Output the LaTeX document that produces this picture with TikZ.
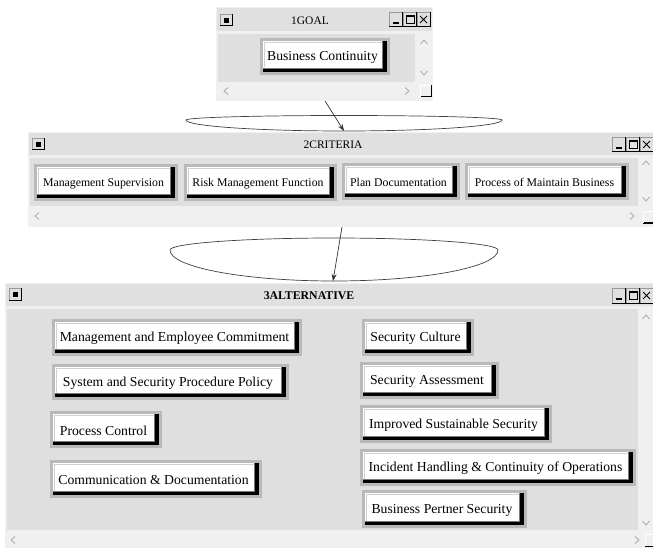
\documentclass[tikz,border=0pt]{standalone}
\usepackage{fontspec}
\setmainfont{Liberation Serif}
\usetikzlibrary{arrows.meta}
\definecolor{winbg}{HTML}{F0F0F0}
\definecolor{titlebg}{HTML}{E0E0E0}
\definecolor{contentbg}{HTML}{DFDFDF}
\definecolor{framegray}{HTML}{B9B9B9}
\definecolor{shadegray}{HTML}{7A7A7A}
\definecolor{lightedge}{HTML}{D0D0D0}
\definecolor{chev}{HTML}{B4B4B4}
\definecolor{edgegray}{HTML}{9A9A9A}

% button: [style] name x1 y1 x2 y2 text
\newcommand\mkbtn[7][btntext]{%
  \fill[framegray] (#3-3,#4-3) rectangle (#5+3,#6+3);
  \fill[black] (#3,#4) rectangle (#5,#6);
  \fill[shadegray] (#3,#4) rectangle (#5-4,#6-3);
  \fill[white] (#3,#4) rectangle (#5-5,#6-4);
  \draw[lightedge,line width=1pt] (#3+1.5,#6-4.5) -- (#3+1.5,#4+1.5) -- (#5-5.5,#4+1.5);
  \node[#1] (#2) at ({(#3+#5-5)/2},{(#4+#6-4)/2+3}) {#7};
}
% window: x1 y1 x2 y2, title bottom, content top, content right, content bottom
\newcommand\mkwin[8]{%
  \fill[winbg] (#1,#2) rectangle (#3,#4);
  \fill[titlebg] (#1+1,#2+1) rectangle (#3-1,#5);
  \fill[contentbg] (#1+2,#6) rectangle (#7,#8);
}
% left title button at x y (top-left)
\newcommand\lbtn[2]{%
  \fill[titlebg] (#1,#2) rectangle (#1+12,#2+12);
  \draw[edgegray,line width=0.8pt] (#1+0.4,#2+12) -- (#1+0.4,#2+0.4) -- (#1+12,#2+0.4);
  \draw[black,line width=1pt] (#1+12,#2) -- (#1+12,#2+12) -- (#1,#2+12);
  \fill[black] (#1+4,#2+4) rectangle (#1+9,#2+9);
}
% right title buttons starting at x, from y
\newcommand\rbtns[2]{%
  \foreach \k in {0,1,2}{
    \fill[titlebg] (#1+14*\k,#2) rectangle (#1+14*\k+14,#2+15);
    \draw[edgegray,line width=0.8pt] (#1+14*\k+0.4,#2+15) -- (#1+14*\k+0.4,#2+0.4) -- (#1+14*\k+14,#2+0.4);
    \draw[black,line width=1pt] (#1+14*\k+13.5,#2) -- (#1+14*\k+13.5,#2+15) -- (#1+14*\k,#2+15);
  }
  \draw[black,line width=1.5pt] (#1+4,#2+11) -- (#1+10,#2+11);
  \draw[black,line width=1pt] (#1+17.5,#2+3.5) rectangle (#1+25.5,#2+11.5);
  \draw[black,line width=1pt] (#1+17.5,#2+4.5) -- (#1+25.5,#2+4.5);
  \draw[black,line width=1pt] (#1+31,#2+4) -- (#1+38,#2+11) (#1+38,#2+4) -- (#1+31,#2+11);
}
\newcommand\grip[2]{%
  \fill[winbg] (#1,#2) rectangle (#1+11,#2+12);
  \draw[black,line width=1pt] (#1+11,#2) -- (#1+11,#2+12) -- (#1,#2+12);
  \draw[white,line width=0.8pt] (#1+0.4,#2+12) -- (#1+0.4,#2+0.4) -- (#1+11,#2+0.4);
}
\newcommand\chup[2]{\draw[chevron] (#1-3.5,#2+2) -- (#1,#2-2) -- (#1+3.5,#2+2);}
\newcommand\chdown[2]{\draw[chevron] (#1-3.5,#2-2) -- (#1,#2+2) -- (#1+3.5,#2-2);}
\newcommand\chleft[2]{\draw[chevron] (#1+2,#2-3.5) -- (#1-2,#2) -- (#1+2,#2+3.5);}
\newcommand\chright[2]{\draw[chevron] (#1-2,#2-3.5) -- (#1+2,#2) -- (#1-2,#2+3.5);}

\begin{document}
\begin{tikzpicture}[x=1pt,y=-1pt,
  btntext/.style={inner sep=0pt, font=\fontsize{13.7}{16}\selectfont},
  crittext/.style={inner sep=0pt, font=\fontsize{11.8}{14}\selectfont},
  wintitle/.style={inner sep=0pt, font=\fontsize{11.5}{14}\selectfont},
  chevron/.style={draw=chev, line width=1pt},
  link/.style={draw=black!80, line width=0.7pt, -{Stealth[length=7pt,width=5pt]}},
  oval/.style={draw=black!75, line width=0.7pt}]
\useasboundingbox (0,0) rectangle (653,548);
\fill[white] (0,0) rectangle (653,548);

% ---------- window 1: GOAL ----------
\mkwin{216}{7}{433}{101}{31}{34}{415}{82}
\lbtn{220}{14}
\rbtns{389}{12}
\node[wintitle] (t1) at (310,21) {1GOAL};
\chup{424}{42}\chdown{424}{73}
\chleft{226}{91}\chright{407}{91}
\grip{420}{85}
\mkbtn{bc}{263}{41}{387}{72}{Business Continuity}

% ---------- window 2: CRITERIA ----------
\mkwin{28}{132}{660}{227}{155}{158}{638}{206}
\lbtn{32}{138}
\rbtns{612}{137}
\node[wintitle] (t2) at (333,145) {2CRITERIA};
\chup{646}{163}\chdown{646}{199}
\chleft{37}{216}\chright{632}{216}
\grip{643}{211}
\mkbtn[crittext]{ms}{37}{167}{175}{198}{Management Supervision}
\mkbtn[crittext]{rmf}{187}{167}{334}{198}{Risk Management Function}
\mkbtn[crittext]{pd}{345}{166}{457}{197}{Plan Documentation}
\mkbtn[crittext]{pmb}{468}{166}{626}{197}{Process of Maintain Business}

% ---------- window 3: ALTERNATIVE ----------
\mkwin{5}{283}{660}{560}{306}{309}{638}{530}
\lbtn{9}{288}
\rbtns{612}{288}
\node[wintitle,font=\fontsize{11.8}{14}\selectfont\bfseries] (t3) at (309,296) {3ALTERNATIVE};
\chup{646}{317}\chdown{646}{523}
\chleft{13}{540}\chright{637}{540}
\grip{645}{534}
\mkbtn{mec}{55}{322}{299}{353}{Management and Employee Commitment}
\mkbtn{sspp}{55}{367}{286}{397}{System and Security Procedure Policy}
\mkbtn{pc}{53}{414}{159}{445}{Process Control}
\mkbtn{cd}{53}{463}{259}{495}{Communication \& Documentation}
\mkbtn{sc}{365}{322}{471}{353}{Security Culture}
\mkbtn{sa}{363}{365}{496}{396}{Security Assessment}
\mkbtn{iss}{363}{408}{549}{440}{Improved Sustainable Security}
\mkbtn{ihco}{363}{452}{633}{483}{Incident Handling \& Continuity of Operations}
\mkbtn{bps}{365}{493}{524}{525}{Business Pertner Security}

% ---------- links ----------
\coordinate (goalout) at (325,101);
\coordinate (critin) at (344,131);
\coordinate (critout) at (342,227);
\coordinate (altin) at (333,281);
\draw[oval] (186,120) arc[start angle=180,end angle=360,x radius=158,y radius=4.5]
                      arc[start angle=0,end angle=180,x radius=158,y radius=11];
\draw[oval] (170,250) arc[start angle=180,end angle=360,x radius=164,y radius=12]
                      arc[start angle=0,end angle=180,x radius=164,y radius=31];
\draw[link] (goalout) -- (critin);
\draw[link] (critout) -- (altin);
\end{tikzpicture}
\end{document}
